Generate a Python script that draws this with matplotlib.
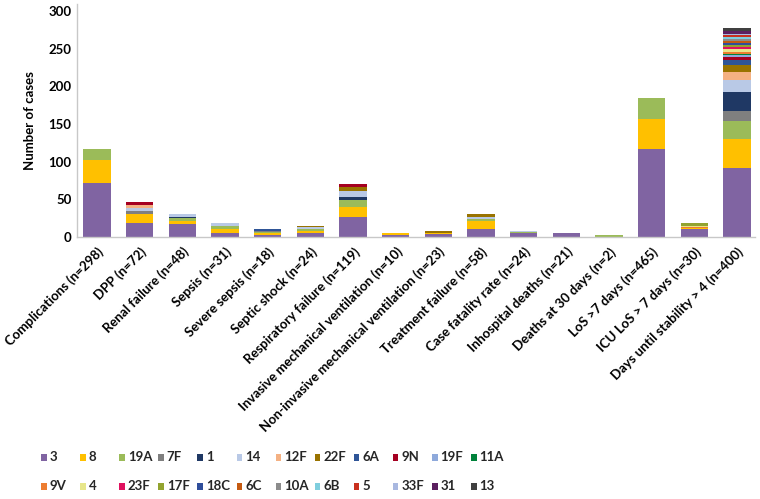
import matplotlib
matplotlib.use("Agg")
import matplotlib.pyplot as plt
from matplotlib.patches import Rectangle
import numpy as np

plt.rcParams['font.family'] = ['Lato', 'DejaVu Sans']

categories = [
    "Complications (n=298)", "DPP (n=72)", "Renal failure (n=48)", "Sepsis (n=31)",
    "Severe sepsis (n=18)", "Septic shock (n=24)", "Respiratory failure (n=119)",
    "Invasive mechanical ventilation (n=10)", "Non-invasive mechanical ventilation (n=23)",
    "Treatment failure (n=58)", "Case fatality rate (n=24)", "Inhospital deaths (n=21)",
    "Deaths at 30 days (n=2)", "LoS >7 days (n=465)", "ICU LoS > 7 days (n=30)",
    "Days until stability > 4 (n=400)",
]

serotypes = ["3", "8", "19A", "7F", "1", "14", "12F", "22F", "6A", "9N", "19F", "11A",
             "9V", "4", "23F", "17F", "18C", "6C", "10A", "6B", "5", "33F", "31", "13"]

colors = ["#8064A2", "#FFC000", "#9BBB59", "#7F7F7F", "#1F3864", "#B9C9E6", "#F4B183",
          "#997300", "#2F5597", "#A50021", "#8EA9DB", "#00823B",
          "#ED7D31", "#E7E68A", "#E0115F", "#92A32F", "#2F4E9B", "#C55A11",
          "#8C8C8C", "#7FCEDE", "#C9301E", "#A9B8E0", "#5B1F5F", "#404040"]

#          Com DPP Ren Sep SSe SSh Res Inv Non Tre CFR Inh D30 LoS ICU Day
s_3   = [72, 18, 17,  5,  3,  5, 27,  2,  4, 10,  5,  5,  0, 117, 10, 91]
s_8   = [30, 12,  4,  6,  2,  3, 13,  3,  1, 11,  0,  0,  0, 39,  2, 39]
s_19A = [15,  1,  4,  3,  2,  3,  9,  0,  0,  3,  1,  0,  2, 28,  0, 24]
s_7F  = [ 0,  3,  0,  0,  1,  0,  0,  0,  0,  0,  0,  0,  0,  0,  0, 13]
s_1   = [ 0,  0,  2,  0,  0,  0,  4,  0,  0,  0,  0,  0,  0,  0,  0, 25]
s_14  = [ 0,  4,  4,  4,  0,  2,  8,  0,  0,  3,  2,  0,  0,  0,  0, 16]
s_12F = [ 0,  4,  0,  0,  0,  0,  0,  0,  0,  0,  0,  0,  0,  0,  0, 11]
s_22F = [ 0,  0,  0,  0,  0,  2,  5,  0,  3,  3,  0,  0,  0,  0,  0,  9]
s_6A  = [ 0,  0,  0,  0,  2,  0,  0,  0,  0,  0,  0,  0,  0,  0,  0,  7]
s_9N  = [ 0,  5,  0,  0,  0,  0,  4,  0,  0,  0,  0,  0,  0,  0,  0,  4]
s_19F = [ 0,  0,  0,  0,  0,  0,  0,  0,  0,  0,  0,  0,  0,  0,  0,  2]
s_11A = [ 0,  0,  0,  0,  0,  0,  0,  0,  0,  0,  0,  0,  0,  0,  0,  2]
s_9V  = [ 0,  0,  0,  0,  0,  0,  0,  0,  0,  0,  0,  0,  0,  0,  1,  3]
s_4   = [ 0,  0,  0,  0,  0,  0,  0,  0,  0,  0,  0,  0,  0,  0,  2,  4]
s_23F = [ 0,  0,  0,  0,  0,  0,  0,  0,  0,  0,  0,  0,  0,  0,  0,  2]
s_17F = [ 0,  0,  0,  0,  0,  0,  0,  0,  0,  0,  0,  0,  0,  0,  3,  3]
s_18C = [ 0,  0,  0,  0,  0,  0,  0,  0,  0,  0,  0,  0,  0,  0,  0,  2]
s_6C  = [ 0,  0,  0,  0,  0,  0,  0,  0,  0,  0,  0,  0,  0,  0,  0,  3]
s_10A = [ 0,  0,  0,  0,  0,  0,  0,  0,  0,  0,  0,  0,  0,  0,  0,  3]
s_6B  = [ 0,  0,  0,  0,  0,  0,  0,  0,  0,  0,  0,  0,  0,  0,  0,  2]
s_5   = [ 0,  0,  0,  0,  0,  0,  0,  0,  0,  0,  0,  0,  0,  0,  0,  3]
s_33F = [ 0,  0,  0,  0,  0,  0,  0,  0,  0,  0,  0,  0,  0,  0,  0,  2]
s_31  = [ 0,  0,  0,  0,  0,  0,  0,  0,  0,  0,  0,  0,  0,  0,  0,  3]
s_13  = [ 0,  0,  0,  0,  0,  0,  0,  0,  0,  0,  0,  0,  0,  0,  0,  4]

series = [s_3, s_8, s_19A, s_7F, s_1, s_14, s_12F, s_22F, s_6A, s_9N, s_19F, s_11A,
          s_9V, s_4, s_23F, s_17F, s_18C, s_6C, s_10A, s_6B, s_5, s_33F, s_31, s_13]

fig = plt.figure(figsize=(7.6, 4.99), dpi=100)
ax = fig.add_axes([77/760, 1-237/499, (755-77)/760, (237-3.5)/499])

x = np.arange(len(categories))
bottom = np.zeros(len(categories))
for name, vals, col in zip(serotypes, series, colors):
    v = np.array(vals, dtype=float)
    ax.bar(x, v, bottom=bottom, width=0.64, color=col, label=name, linewidth=0)
    bottom += v

ax.set_xlim(-0.47, 15.42)
ax.set_ylim(0, 310)
ax.set_yticks([0, 50, 100, 150, 200, 250, 300])
ax.tick_params(axis='both', length=0, labelsize=9.5, pad=4)
for t in ax.get_yticklabels():
    t.set_fontweight('bold')
ax.set_xticks(x)
ax.set_xticklabels(categories, rotation=45, ha='right', rotation_mode='anchor',
                   fontsize=9.5, fontweight='bold')
ax.tick_params(axis='x', pad=6)
ax.set_ylabel("Number of cases", fontsize=9.5, fontweight='bold', labelpad=9)
for s in ['top', 'right']:
    ax.spines[s].set_visible(False)
for s in ['left', 'bottom']:
    ax.spines[s].set_color('#C8C8C8')
    ax.spines[s].set_linewidth(1.0)

# manual legend (two rows of 12 equally spaced entries)
W, H = 760, 499
for i, (name, col) in enumerate(zip(serotypes, colors)):
    row, colidx = divmod(i, 12)
    xl = 41 + colidx * 39.1
    yc = 457 if row == 0 else 486
    fig.patches.append(Rectangle((xl / W, 1 - (yc + 3.5) / H), 5.5 / W, 7 / H,
                                 transform=fig.transFigure, facecolor=col,
                                 edgecolor='none'))
    fig.text((xl + 8.5) / W, 1 - yc / H, name, fontsize=9.5, fontweight='bold',
             va='center', ha='left', color='#262626')

fig.savefig("out.png", dpi=100)
